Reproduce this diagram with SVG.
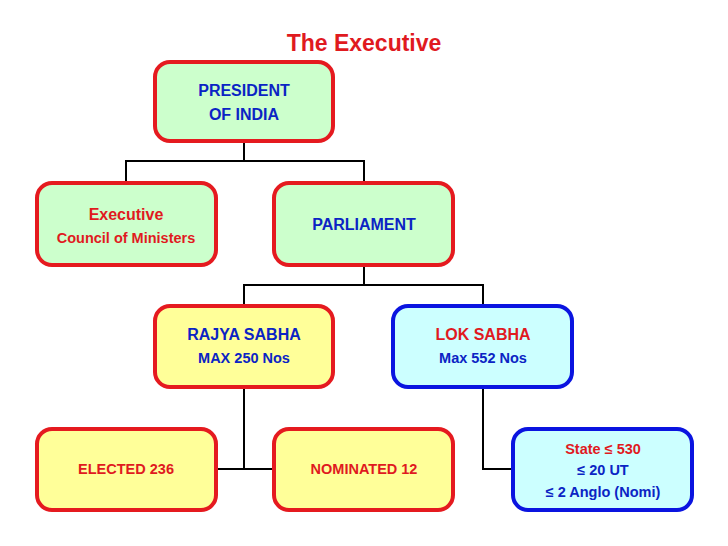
<svg xmlns="http://www.w3.org/2000/svg" width="728" height="546" viewBox="0 0 728 546">
<style>
text{font-family:"Liberation Sans",Arial,sans-serif;font-weight:bold;text-anchor:middle}
.b{fill:none;stroke-width:4}
.r{stroke:#e51a1f}.u{stroke:#0a14e0}
.g{fill:#ccffcc}.y{fill:#ffff99}.c{fill:#ccffff}
.tb{fill:#0b24c4}.tr{fill:#e01a1f}
.l{fill:none;stroke:#000;stroke-width:2}
</style>
<rect width="728" height="546" fill="#fff"/>
<text x="364" y="51" font-size="23" class="tr">The Executive</text>
<g id="connectors">
<path class="l" d="M244 141V161M126 183V161H364V183M364 265V285M244 306V285H483V306M244 387V469M216 469H274M483 387V469H513"/>
</g>
<g id="president"><rect class="b r g" x="155" y="62" width="178" height="79" rx="15"/><text x="244" y="96" font-size="16" class="tb">PRESIDENT</text><text x="244" y="120" font-size="16" class="tb">OF INDIA</text></g>
<g id="executive"><rect class="b r g" x="37" y="183" width="179" height="82" rx="15"/><text x="126" y="220" font-size="16" class="tr">Executive</text><text x="126" y="243" font-size="14.5" class="tr">Council of Ministers</text></g>
<g id="parliament"><rect class="b r g" x="274" y="183" width="179" height="82" rx="15"/><text x="364" y="230" font-size="16" class="tb">PARLIAMENT</text></g>
<g id="rajya"><rect class="b r y" x="155" y="306" width="178" height="81" rx="15"/><text x="244" y="340" font-size="16" class="tb">RAJYA SABHA</text><text x="244" y="363" font-size="14.5" class="tb">MAX 250 Nos</text></g>
<g id="lok"><rect class="b u c" x="393" y="306" width="179" height="81" rx="15"/><text x="483" y="340" font-size="16" class="tr">LOK SABHA</text><text x="483" y="363" font-size="14.5" class="tb">Max 552 Nos</text></g>
<g id="elected"><rect class="b r y" x="37" y="429" width="179" height="81" rx="15"/><text x="126" y="474" font-size="14.5" class="tr">ELECTED 236</text></g>
<g id="nominated"><rect class="b r y" x="274" y="429" width="179" height="81" rx="15"/><text x="364" y="474" font-size="14.5" class="tr">NOMINATED 12</text></g>
<g id="state"><rect class="b u c" x="513" y="429" width="179" height="81" rx="15"/><text x="603" y="454" font-size="14.5" class="tr">State ≤ 530</text><text x="603" y="475" font-size="14.5" class="tb">≤ 20 UT</text><text x="603" y="497" font-size="14.5" class="tb">≤ 2 Anglo (Nomi)</text></g>
</svg>
